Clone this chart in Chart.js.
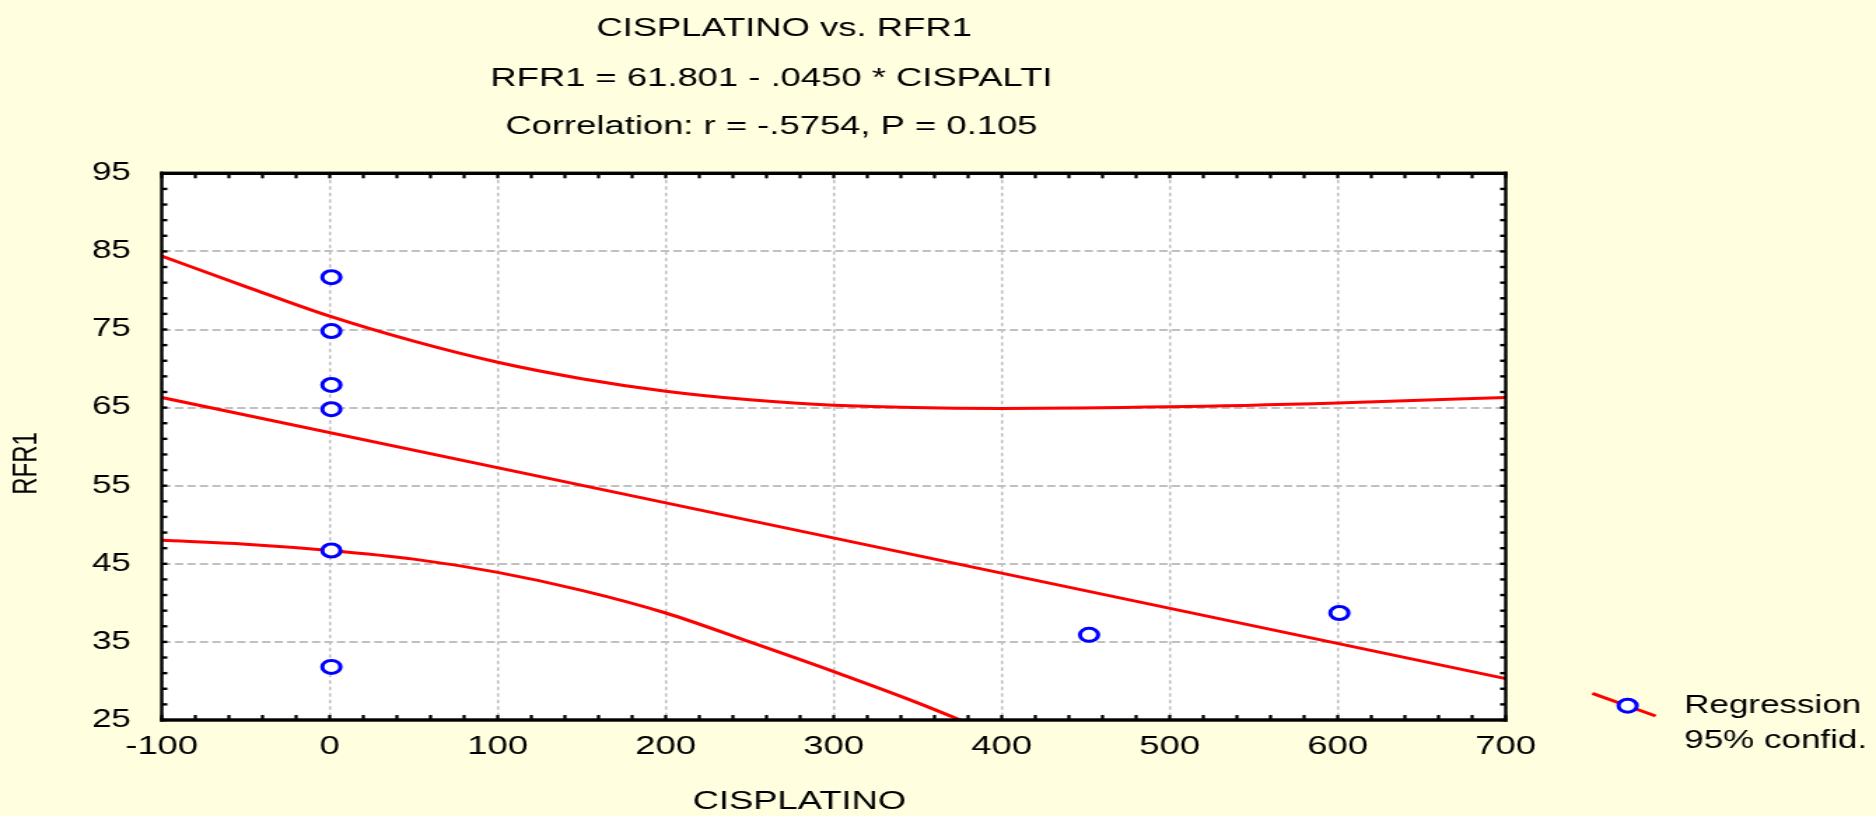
<!DOCTYPE html>
<html>
<head>
<meta charset="utf-8">
<title>CISPLATINO vs. RFR1</title>
<script src="https://cdn.jsdelivr.net/npm/chart.js@4.4.1/dist/chart.umd.min.js"></script>
<style>
    html, body { margin: 0; padding: 0; background: #ffffe0; overflow: hidden; }
    /* the reference is stretched sideways: draw narrow, then widen */
    #wrap { width: 1340px; height: 816px; transform: scaleX(1.4); transform-origin: 0 0; }
</style>
</head>
<body>
<div id="wrap"><canvas id="regressionChart"></canvas></div>
<script>
/* ── Values ─────────────────────────────────────────────────── */
const pointX = [1, 1, 1, 1, 1, 1, 452, 601];
const pointY = [81.7, 74.8, 67.9, 64.8, 46.7, 31.8, 35.9, 38.7];

const fitX = [-100, 700];
const fitY = [66.3, 30.3];

const upperX = [-100, -50, 0, 50, 100, 150, 200, 250, 300, 400, 500, 600, 700];
const upperY = [84.4, 80.5, 76.7, 73.5, 70.8, 68.7, 67.1, 66.0, 65.3, 64.9, 65.1, 65.6, 66.3];

const lowerX = [-100, -50, 0, 50, 100, 150, 200, 250, 300, 350, 400];
const lowerY = [48.0, 47.5, 46.7, 45.6, 43.9, 41.6, 38.7, 35.0, 31.2, 27.2, 22.8];

const xRange = [-100, 700];   // labels every 100, small ticks every 20
const yRange = [25, 95];      // labels every 10, small ticks every 2

const titleLines = [
    'CISPLATINO vs. RFR1',
    'RFR1 = 61.801 - .0450 * CISPALTI',
    'Correlation: r = -.5754, P = 0.105',
];
const legendLines = ['Regression', '95% confid.'];

/* ── Palette ────────────────────────────────────────────────── */
const palette = {
    paper: '#ffffe0',
    plot:  '#ffffff',
    red:   '#ff0000',
    blue:  '#0000ff',
    grid:  '#c0c0c0',
    ink:   '#000000',
};
const FONT = '"Liberation Sans", Arial, sans-serif';
const MARK_R = 6.5;
const MARK_W = 3;

const xy = (xs, ys) => xs.map((x, i) => ({ x, y: ys[i] }));

function drawMarker(ctx, x, y) {
    ctx.beginPath();
    ctx.arc(x, y, MARK_R, 0, Math.PI * 2);
    ctx.fillStyle = palette.plot;
    ctx.fill();
    ctx.lineWidth = MARK_W;
    ctx.strokeStyle = palette.blue;
    ctx.stroke();
}

/* ── Frame, inward ticks, titles and legend ─────────────────── */
const statFrame = {
    id: 'statFrame',
    beforeDraw(chart) {
        const { ctx, chartArea: a } = chart;
        ctx.save();
        ctx.fillStyle = palette.paper;
        ctx.fillRect(0, 0, chart.width, chart.height);
        ctx.fillStyle = palette.plot;
        ctx.fillRect(a.left, a.top, a.right - a.left, a.bottom - a.top);
        ctx.restore();
    },
    afterDraw(chart) {
        const { ctx, chartArea: a, scales: { x, y } } = chart;
        ctx.save();
        ctx.fillStyle = palette.ink;

        for (let v = xRange[0]; v <= xRange[1]; v += 20) {
            const px = x.getPixelForValue(v);
            ctx.fillRect(px - 1.1, a.bottom - 5, 2.2, 5);
            ctx.fillRect(px - 1.1, a.top, 2.2, 5);
        }
        for (let v = yRange[0]; v <= yRange[1]; v += 2) {
            const py = y.getPixelForValue(v);
            ctx.fillRect(a.left, py - 1.2, 4, 2.4);
            ctx.fillRect(a.right - 4, py - 1.2, 4, 2.4);
        }

        // box
        ctx.fillRect(a.left - 1.2, a.top - 1.7, a.right - a.left + 2.4, 3.4);
        ctx.fillRect(a.left - 1.2, a.bottom - 1.7, a.right - a.left + 2.4, 3.4);
        ctx.fillRect(a.left - 1.2, a.top - 1.7, 2.4, a.bottom - a.top + 3.4);
        ctx.fillRect(a.right - 1.2, a.top - 1.7, 2.4, a.bottom - a.top + 3.4);

        // titles
        ctx.textAlign = 'center';
        ctx.textBaseline = 'alphabetic';
        ctx.font = `26px ${FONT}`;
        ctx.fillText(titleLines[0], 560, 36);
        ctx.fillText(titleLines[1], 551, 86);
        ctx.fillText(titleLines[2], 551, 134);

        ctx.font = `26px ${FONT}`;
        ctx.fillText('CISPLATINO', 571, 809);

        ctx.save();
        ctx.translate(19, 463.5);
        ctx.rotate(-Math.PI / 2);
        ctx.textBaseline = 'middle';
        ctx.font = `24px ${FONT}`;
        ctx.fillText('RFR1', 0, 0);
        ctx.restore();

        // legend
        ctx.beginPath();
        ctx.moveTo(1137.4, 693.3);
        ctx.lineTo(1182.6, 716);
        ctx.lineWidth = 3;
        ctx.strokeStyle = palette.red;
        ctx.stroke();
        drawMarker(ctx, 1162.6, 705.7);

        ctx.fillStyle = palette.ink;
        ctx.textAlign = 'left';
        ctx.font = `25px ${FONT}`;
        ctx.fillText(legendLines[0], 1203, 713);
        ctx.fillText(legendLines[1], 1203, 748);
        ctx.restore();
    },
};

/* ── Chart ──────────────────────────────────────────────────── */
const redLine = {
    borderColor: palette.red,
    borderWidth: 3,
    pointRadius: 0,
    fill: false,
    cubicInterpolationMode: 'monotone',
};

new Chart(document.getElementById('regressionChart'), {
    type: 'line',
    data: {
        datasets: [
            {
                type: 'scatter',
                label: 'RFR1',
                data: xy(pointX, pointY),
                showLine: false,
                pointStyle: 'circle',
                pointRadius: MARK_R,
                pointBorderWidth: MARK_W,
                borderColor: palette.blue,
                backgroundColor: palette.plot,
            },
            { label: 'Regression', data: xy(fitX, fitY), ...redLine },
            { label: '95% upper', data: xy(upperX, upperY), ...redLine },
            { label: '95% lower', data: xy(lowerX, lowerY), ...redLine },
        ],
    },
    options: {
        responsive: true,
        maintainAspectRatio: false,
        animation: false,
        events: [],
        layout: { padding: { top: 173.3, right: 264.5, bottom: 0, left: 0 } },
        plugins: {
            legend:  { display: false },
            title:   { display: false },
            tooltip: { enabled: false },
        },
        scales: {
            x: {
                type: 'linear',
                min: xRange[0],
                max: xRange[1],
                afterFit: s => { s.height = 96; },
                ticks: {
                    stepSize: 100,
                    padding: 11,
                    maxRotation: 0,
                    color: palette.ink,
                    font: { family: FONT, size: 26 },
                },
                grid:   { color: palette.grid, lineWidth: 1.5, drawTicks: false },
                border: { display: false, dash: [3.5, 3] },
            },
            y: {
                type: 'linear',
                min: yRange[0],
                max: yRange[1],
                afterFit: s => { s.width = 115.5; },
                ticks: {
                    stepSize: 10,
                    padding: 22,
                    color: palette.ink,
                    font: { family: FONT, size: 25 },
                },
                grid:   { color: palette.grid, lineWidth: 2, drawTicks: false },
                border: { display: false, dash: [6, 2.9] },
            },
        },
    },
    plugins: [statFrame],
});
</script>
</body>
</html>
